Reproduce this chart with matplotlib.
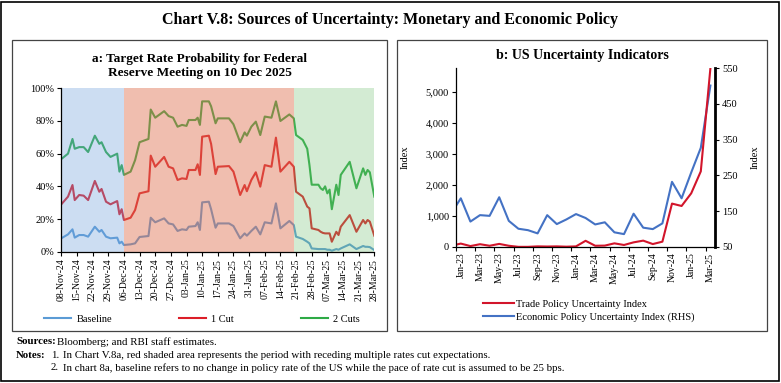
import numpy as np
import pandas as pd
import matplotlib.pyplot as plt
from matplotlib.patches import Rectangle
from matplotlib.lines import Line2D
from matplotlib.ticker import FuncFormatter

plt.rcParams['font.family'] = ['Liberation Serif', 'DejaVu Serif']

# Panel a: target rate probabilities (per cent)
prob_dates = [
    "2024-11-08", "2024-11-11", "2024-11-13", "2024-11-14", "2024-11-16", "2024-11-18",
    "2024-11-20", "2024-11-23", "2024-11-25", "2024-11-26", "2024-11-28", "2024-11-30",
    "2024-12-03", "2024-12-04", "2024-12-05", "2024-12-06", "2024-12-09", "2024-12-11",
    "2024-12-13", "2024-12-17", "2024-12-18", "2024-12-20", "2024-12-24", "2024-12-26",
    "2024-12-28", "2024-12-30", "2025-01-01", "2025-01-03", "2025-01-04", "2025-01-07",
    "2025-01-08", "2025-01-09", "2025-01-10", "2025-01-13", "2025-01-14", "2025-01-16",
    "2025-01-17", "2025-01-22", "2025-01-24", "2025-01-27", "2025-01-29", "2025-01-30",
    "2025-02-01", "2025-02-03", "2025-02-05", "2025-02-07", "2025-02-10", "2025-02-12",
    "2025-02-14", "2025-02-18", "2025-02-20", "2025-02-21", "2025-02-24", "2025-02-26",
    "2025-02-27", "2025-02-28", "2025-03-03", "2025-03-04", "2025-03-05", "2025-03-06",
    "2025-03-07", "2025-03-08", "2025-03-09", "2025-03-11", "2025-03-12", "2025-03-13",
    "2025-03-17", "2025-03-20", "2025-03-23", "2025-03-24", "2025-03-25", "2025-03-26",
    "2025-03-28",
]
two_cuts = [
    56.7, 60, 69, 63, 64, 64, 61, 71, 66, 67, 61, 58,
    60, 49, 53, 47, 49, 56, 67, 69, 87, 82, 86, 83,
    82, 76.5, 77.6, 77, 80.6, 80.6, 82, 77.6, 92, 92, 89, 78.6,
    81.6, 81.6, 78, 67, 73, 71, 76.5, 79.6, 71.4, 82.7, 82, 92,
    80, 84, 81.6, 71.4, 68.4, 63, 53, 41, 41, 38.8, 37.8, 40,
    35.7, 38, 26, 41, 34.7, 47, 55, 38.8, 51, 47, 50, 48.6,
    33.7,
]
one_cut = [
    29, 33.7, 40.8, 31.6, 34.7, 34.3, 31.6, 43.3, 36.7, 38.4, 30.6, 29,
    31, 22.9, 26, 19.4, 20.8, 25.5, 35.7, 37, 58.8, 52, 58, 52,
    51, 43.9, 44.9, 44.5, 50, 50, 53.5, 47, 70.4, 71, 66, 47.5,
    52, 52.4, 49, 34.7, 40.8, 37, 43.9, 48.6, 39.8, 53, 52, 69.8,
    49, 55, 52, 36.7, 33.7, 27.6, 26.5, 14.3, 13.3, 12.2, 11.5, 11.2,
    11.2, 11.2, 6.1, 12.2, 10.2, 15.3, 22.4, 12.2, 19.4, 17.3, 19.4, 18.4,
    9.8,
]
baseline = [
    8.2, 10.6, 13.7, 8.6, 10.2, 10.2, 9.2, 15.3, 12.2, 13.3, 9.2, 8.2,
    8.6, 5.1, 6.1, 4.1, 4.5, 5.1, 9, 9.6, 20.8, 18, 20.4, 17.3,
    16.7, 12.7, 13.7, 13.3, 15.3, 15.7, 18, 13.3, 30.2, 30.6, 26, 14.7,
    17.3, 17.3, 15.7, 8.2, 11.2, 9.8, 12.7, 15.3, 10.6, 18, 17.3, 29.6,
    14.3, 18.8, 16.3, 9.2, 7.8, 6.1, 5.1, 2, 1.6, 1.6, 1.6, 1.6,
    1.2, 1.2, 0.6, 1.6, 1.2, 2, 4.5, 1.6, 3.5, 3, 3, 2.8,
    1,
]
period_edges = ["2024-11-08", "2024-12-06", "2025-02-20", "2025-03-28"]

# Panel b: monthly indices, Dec-22 to Mar-25
tpu_index = [40, 110, 30, 90, 40, 100, 40, 5, 5, 20, 15, 20, 10, 20, 200,
             40, 45, 118, 65, 150, 205, 95, 172, 1400, 1323, 1731, 2440, 5765]
epu_index = [144, 186, 121, 139, 137, 189, 123, 101, 97, 88, 139, 114, 127, 142, 131,
             113, 119, 91, 86, 143, 104, 100, 116, 232, 186, 258, 327, 501]

fig = plt.figure(figsize=(7.81, 3.83), dpi=100)
W, H = 781, 383


def fx(x):
    return x / W


def fy(y):
    return 1 - y / H


# frames
fig.add_artist(Rectangle((fx(1), fy(381)), fx(778), 379 / H, transform=fig.transFigure,
                         fill=False, lw=1.2, ec="black"))
fig.add_artist(Rectangle((fx(12), fy(331)), fx(375), 291 / H, transform=fig.transFigure,
                         fill=False, lw=0.9, ec="#444444"))
fig.add_artist(Rectangle((fx(397), fy(331)), fx(370), 291 / H, transform=fig.transFigure,
                         fill=False, lw=0.9, ec="#444444"))

fig.text(0.5, fy(20), "Chart V.8: Sources of Uncertainty: Monetary and Economic Policy",
         ha="center", va="center", fontsize=11.5, fontweight="bold")
fig.text(fx(200), fy(66), "a: Target Rate Probability for Federal\nReserve Meeting on 10 Dec 2025",
         ha="center", va="center", fontsize=9.5, fontweight="bold", linespacing=1.15)
fig.text(fx(582), fy(56), "b: US Uncertainty Indicators",
         ha="center", va="center", fontsize=10, fontweight="bold")

# ---- panel a
ax1 = fig.add_axes([fx(61.3), fy(251.7), fx(313), 163.4 / H])
d = pd.to_datetime(prob_dates)
c_base, c_one, c_two = "#5B9BD5", "#DC1E28", "#2EAA46"
ax1.plot(d, baseline, color=c_base, lw=1.5, zorder=2)
ax1.plot(d, one_cut, color=c_one, lw=1.5, zorder=2)
ax1.plot(d, two_cuts, color=c_two, lw=1.5, zorder=2)

# shading sits over the lines, as in the original
edges = pd.to_datetime(period_edges)
ax1.axvspan(edges[0], edges[1], color="#6FA0DC", alpha=0.35, lw=0, zorder=3)
ax1.axvspan(edges[1], edges[2], color="#DE6F4E", alpha=0.45, lw=0, zorder=3)
ax1.axvspan(edges[2], edges[3], color="#70C070", alpha=0.30, lw=0, zorder=3)

ax1.set_xlim(edges[0], edges[3])
ax1.set_ylim(0, 100)
ax1.set_yticks(np.arange(0, 101, 20))
ax1.yaxis.set_major_formatter(FuncFormatter(lambda v, p: f"{v:.0f}%"))
weekly = pd.date_range(edges[0], edges[3], freq="7D")
ax1.set_xticks(weekly)
ax1.set_xticklabels([t.strftime("%d-%b-%y") for t in weekly], rotation=90, fontsize=7)
ax1.tick_params(axis="y", labelsize=7.5, length=3, width=0.8, pad=2)
ax1.tick_params(axis="x", length=3, width=0.8, pad=2)
for s in ["top", "right"]:
    ax1.spines[s].set_visible(False)
for s in ["left", "bottom"]:
    ax1.spines[s].set_linewidth(0.9)
    ax1.spines[s].set_zorder(4)

handles_a = [Line2D([], [], color=c_base, lw=1.5),
             Line2D([], [], color=c_one, lw=1.5),
             Line2D([], [], color=c_two, lw=1.5)]
fig.legend(handles_a, ["Baseline", "1 Cut", "2 Cuts"], loc="center",
           bbox_to_anchor=(fx(202), fy(319)), ncol=3, frameon=False, fontsize=7.5,
           handlelength=2.6, handletextpad=0.5, columnspacing=6.4)

# ---- panel b
ax2 = fig.add_axes([fx(456), fy(247), fx(259.2), 179 / H])
ax3 = ax2.twinx()
xm = np.arange(-1, len(tpu_index) - 1)
months = pd.date_range("2023-01-01", "2025-03-01", freq="MS")
c_tpu, c_epu = "#D2152B", "#4472C4"
ax3.plot(xm, epu_index, color=c_epu, lw=1.5)
ax2.plot(xm, tpu_index, color=c_tpu, lw=1.5)
ax2.set_zorder(ax3.get_zorder() + 1)
ax2.patch.set_visible(False)

ax2.set_xlim(-0.5, len(months) - 0.5)
ax2.set_ylim(0, 5774)
ax3.set_ylim(50, 550)
ax2.set_yticks(np.arange(0, 5001, 1000))
ax2.yaxis.set_major_formatter(FuncFormatter(lambda v, p: f"{v:,.0f}"))
ax3.set_yticks(np.arange(50, 551, 100))
lab_pos = np.arange(0, len(months), 2)
ax2.set_xticks(np.arange(-0.5, len(months), 2))
ax2.set_xticklabels([])
ax2.set_xticks(lab_pos, minor=True)
ax2.set_xticklabels([months[i].strftime("%b-%y") for i in lab_pos], minor=True,
                    rotation=90, fontsize=7)
ax2.tick_params(axis="x", which="major", length=3, width=0.8)
ax2.tick_params(axis="x", which="minor", length=0, pad=4)
ax2.tick_params(axis="y", labelsize=7.5, length=3, width=0.8, pad=2)
ax3.tick_params(axis="y", labelsize=7.5, length=3, width=0.8, pad=2)
ax2.set_ylabel("Index", fontsize=7.5, labelpad=12)
ax3.set_ylabel("Index", fontsize=7.5, labelpad=9)
for a in (ax2, ax3):
    a.spines["top"].set_visible(False)
ax2.spines["right"].set_visible(False)
ax3.spines["left"].set_visible(False)
ax3.spines["bottom"].set_visible(False)
ax3.spines["right"].set_linewidth(2)
ax2.spines["left"].set_linewidth(0.9)
ax2.spines["bottom"].set_linewidth(0.9)

handles_b = [Line2D([], [], color=c_tpu, lw=1.5), Line2D([], [], color=c_epu, lw=1.5)]
fig.legend(handles_b, ["Trade Policy Uncertainty Index",
                       "Economic Policy Uncertainty Index (RHS)"],
           loc="upper left", bbox_to_anchor=(fx(474), fy(290)), ncol=1, frameon=False,
           fontsize=7.5, handlelength=2.9, handletextpad=0.25, labelspacing=0.35)

# sources and notes
fs = 7.8
fig.text(fx(16), fy(342), "Sources:", fontsize=fs, fontweight="bold", va="center")
fig.text(fx(57), fy(342), "Bloomberg; and RBI staff estimates.", fontsize=fs, va="center")
fig.text(fx(16), fy(355), "Notes:", fontsize=fs, fontweight="bold", va="center")
fig.text(fx(51), fy(355), "1.", fontsize=fs, va="center")
fig.text(fx(63), fy(355),
         "In Chart V.8a, red shaded area represents the period with receding multiple rates cut expectations.",
         fontsize=fs, va="center")
fig.text(fx(51), fy(368), "2.", fontsize=fs, va="center")
fig.text(fx(63), fy(368),
         "In chart 8a, baseline refers to no change in policy rate of the US while the pace of rate cut is assumed to be 25 bps.",
         fontsize=fs, va="center")

fig.savefig("out.png", dpi=100)
